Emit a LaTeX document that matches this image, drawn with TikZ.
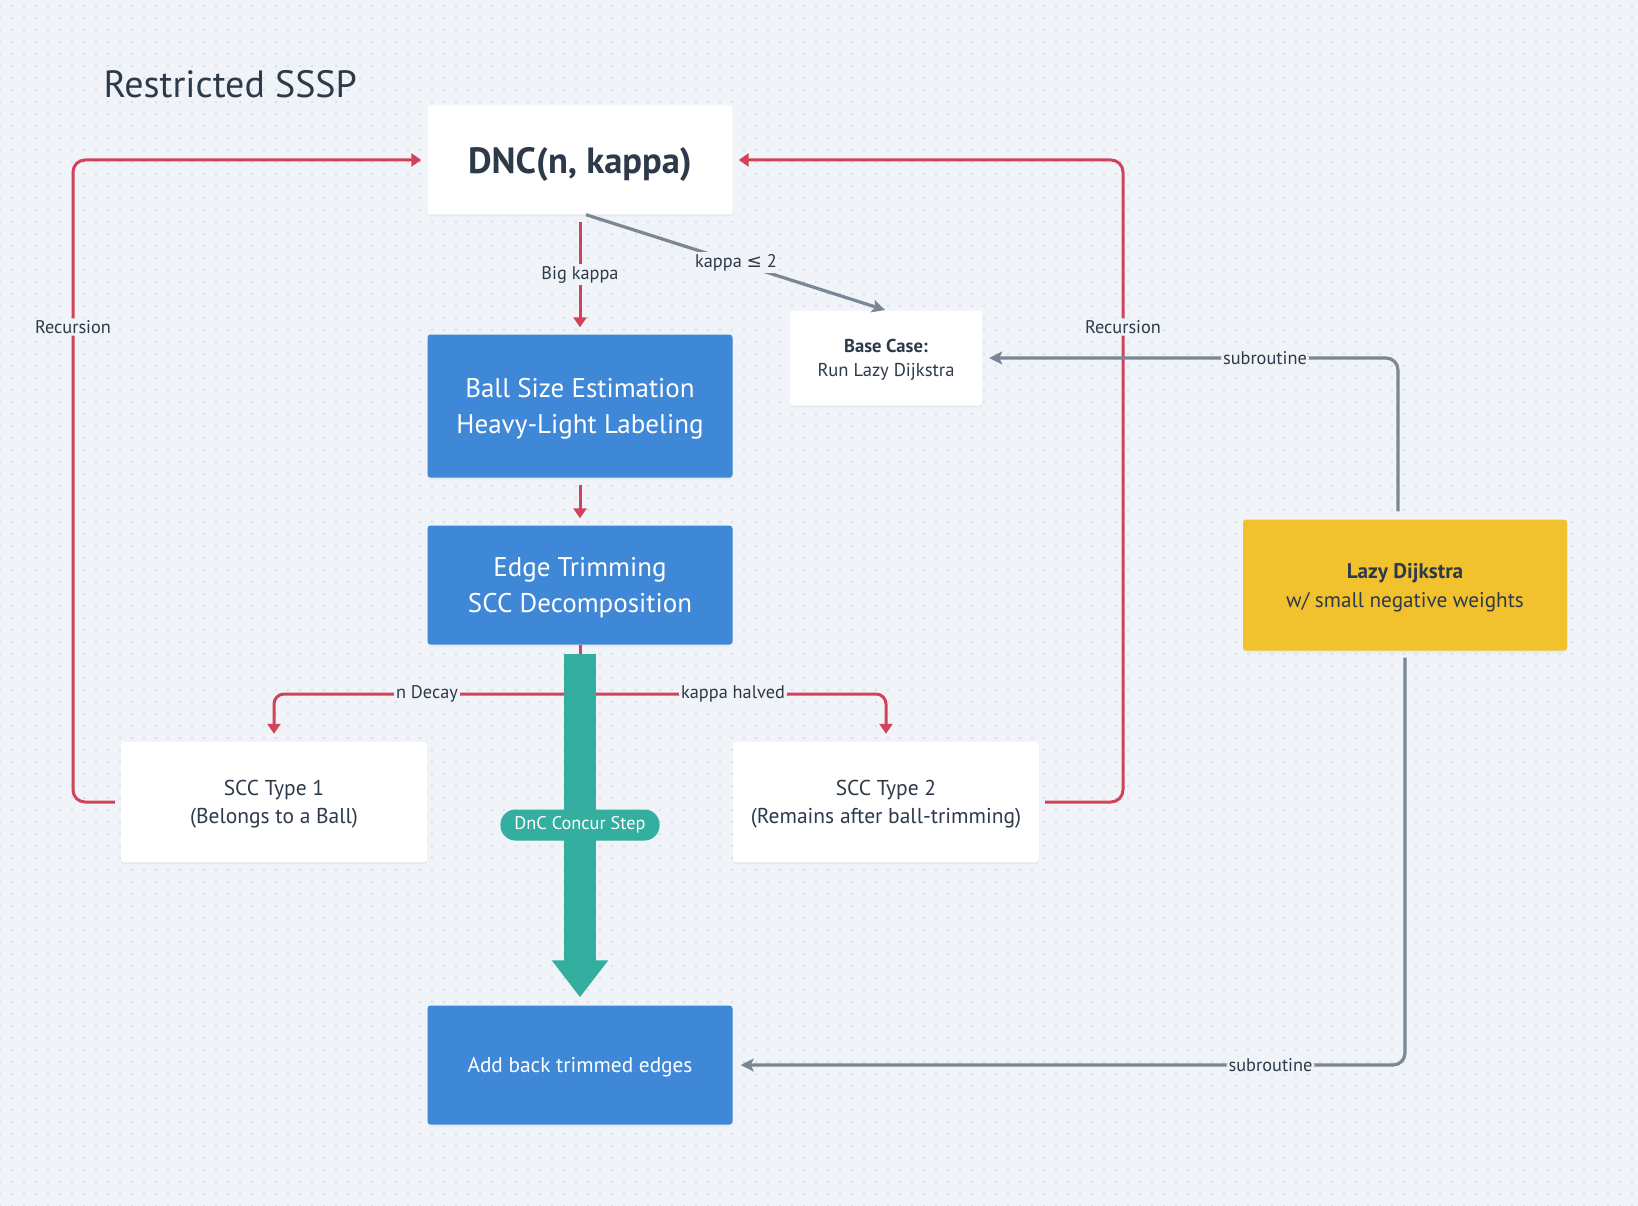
\documentclass[tikz,border=0pt]{standalone}
\usepackage{fontspec}
\setmainfont{PT Sans}
\newfontfamily\rssym{DejaVu Sans}
\usetikzlibrary{arrows.meta,shadows,patterns.meta}
\definecolor{rsBg}{HTML}{F0F3F7}
\definecolor{rsDot}{HTML}{C4CBD4}
\definecolor{rsInk}{HTML}{2D3A4A}
\definecolor{rsRed}{HTML}{D1435B}
\definecolor{rsGray}{HTML}{7B8794}
\definecolor{rsBlue}{HTML}{3F88D8}
\definecolor{rsGold}{HTML}{F2C12E}
\definecolor{rsTeal}{HTML}{33AE9F}
\newcommand{\rsfs}[2]{\fontsize{#1pt}{#2pt}\selectfont}
\tikzset{
  rs/.style={x=1pt, y=-1pt, text=rsInk},
  card/.style={fill=white, rounded corners=3pt, align=center, inner sep=4pt, text depth=0pt,
    drop shadow={opacity=.08, shadow xshift=0pt, shadow yshift=-2pt}},
  task/.style={card, fill=rsBlue, text=white},
  lazybox/.style={card, fill=rsGold},
  pill/.style={fill=rsTeal, text=white, rounded corners=15pt, inner xsep=14pt, minimum height=31pt, font=\rsfs{18.3}{21}},
  lbl/.style={fill=rsBg, inner sep=2pt, font=\rsfs{18.3}{21}, text=rsInk},
  rec/.style={draw=rsRed, line width=3pt, -{Triangle[length=10pt, width=13pt]}},
  sub/.style={draw=rsGray, line width=3.2pt, -{Stealth[length=13pt, width=13pt, inset=3pt]}},
  bigflow/.style={draw=rsTeal, line width=32pt, -{Triangle[length=37pt, width=54pt]}},
}

\begin{document}
\begin{tikzpicture}[rs]
% canvas with dot grid
\fill[rsBg] (0,0) rectangle (1638,1206);
\fill[pattern={Dots[distance=12pt, radius=0.9pt]}, pattern color=rsDot] (0,0) rectangle (1638,1206);
\useasboundingbox (0,0) rectangle (1638,1206);

\node[anchor=west, font=\rsfs{38}{42}] (title) at (100,84) {Restricted SSSP};

\node[card, minimum width=305pt, minimum height=109pt, font=\rsfs{36.5}{40}\bfseries] (dnc) at (580,160) {DNC(n, kappa)};
\node[task, minimum width=305pt, minimum height=143pt, font=\rsfs{27}{36}] (ball) at (580,406) {Ball Size Estimation\\Heavy-Light Labeling};
\node[task, minimum width=305pt, minimum height=119pt, font=\rsfs{27}{36}] (trim) at (580,585) {Edge Trimming\\SCC Decomposition};
\node[card, minimum width=306pt, minimum height=120pt, font=\rsfs{21.5}{28}] (scc1) at (274,802) {SCC Type 1\\(Belongs to a Ball)};
\node[card, minimum width=306pt, minimum height=120pt, font=\rsfs{21.5}{28}] (scc2) at (886,802) {SCC Type 2\\(Remains after ball-trimming)};
\node[task, minimum width=305pt, minimum height=119pt, font=\rsfs{21.3}{24}] (addback) at (580,1065) {Add back trimmed edges};
\node[card, minimum width=192pt, minimum height=95pt, font=\rsfs{18.6}{24}] (base) at (886,358) {\textbf{Base Case:}\\Run Lazy Dijkstra};
\node[lazybox, minimum width=324pt, minimum height=131pt, font=\rsfs{21.2}{29}] (lazy) at (1405,585) {\textbf{Lazy Dijkstra}\\w/ small negative weights};

\coordinate (fork) at (580,694);
\coordinate (loopL) at (73,160);
\coordinate (loopR) at (1123,160);

% recursion structure
\draw[rec, shorten <=7pt, shorten >=7pt] (dnc.south) -- node[lbl] {Big kappa} (ball.north);
\draw[rec, shorten <=7pt, shorten >=7pt] (ball.south) -- (trim.north);
\draw[rec, -] (trim.south) -- (fork);
\draw[rec, rounded corners=10pt, shorten >=8pt] (fork) -| node[lbl, pos=.25] {n Decay} (scc1.north);
\draw[rec, rounded corners=10pt, shorten >=8pt] (fork) -| node[lbl, pos=.25] {kappa halved} (scc2.north);
\draw[rec, rounded corners=12pt, shorten <=6pt, shorten >=6pt] (scc1.west) -| node[lbl, pos=.87] {Recursion} (loopL) -- (dnc.west);
\draw[rec, rounded corners=12pt, shorten <=6pt, shorten >=6pt] (scc2.east) -| node[lbl, pos=.87] {Recursion} (loopR) -- (dnc.east);

% subroutine calls
\draw[sub, shorten >=1pt] ([xshift=6pt]dnc.south) -- node[lbl] {kappa {\rssym ≤} 2} (base.north);
\draw[sub, rounded corners=12pt, shorten <=8pt, shorten >=7pt] ([xshift=-7pt]lazy.north) |- node[lbl, pos=.66] {subroutine} (base.east);
\draw[sub, rounded corners=12pt, shorten <=7pt, shorten >=8pt] (lazy.south) |- node[lbl, pos=.6] {subroutine} (addback.east);

% divide and conquer step
\draw[bigflow, shorten <=9pt, shorten >=8pt] (trim.south) -- (addback.north);
\node[pill] (step) at (580,825) {DnC Concur Step};
\end{tikzpicture}
\end{document}
